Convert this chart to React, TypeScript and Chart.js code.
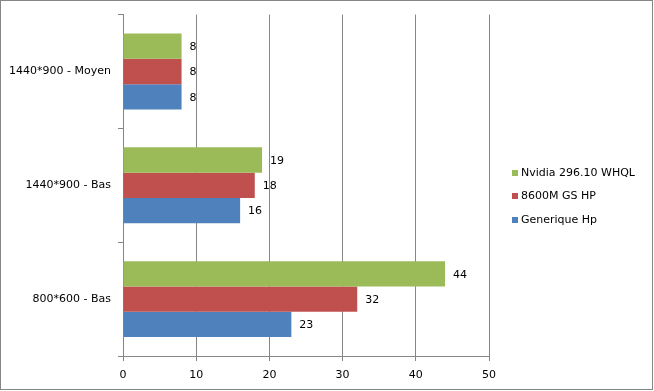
import React, { useEffect, useRef } from "react";
import { Chart, registerables } from "chart.js";

Chart.register(...registerables);

const categories = ["1440*900 - Moyen", "1440*900 - Bas", "800*600 - Bas"];
const nvidiaValues = [8, 19, 44];
const hp8600Values = [8, 18, 32];
const generiqueValues = [8, 16, 23];
const seriesNames = ["Nvidia 296.10 WHQL", "8600M GS HP", "Generique Hp"];
const seriesColors = ["#9BBB59", "#C0504D", "#4F81BD"];
const xMin = 0;
const xMax = 50;
const xStep = 10;

const FONT = "'DejaVu Sans', Verdana, sans-serif";
const GRID = "#868686";

const valueLabels = {
  id: "valueLabels",
  afterDatasetsDraw(chart: any) {
    const ctx = chart.ctx;
    ctx.save();
    ctx.font = `11px ${FONT}`;
    ctx.fillStyle = "#000";
    ctx.textAlign = "left";
    ctx.textBaseline = "middle";
    chart.data.datasets.forEach((ds: any, i: number) => {
      const meta = chart.getDatasetMeta(i);
      meta.data.forEach((el: any, j: number) => {
        ctx.fillText(String(ds.data[j]), el.x + 8, el.y + 1);
      });
    });
    ctx.restore();
  },
};

const sideLegend = {
  id: "sideLegend",
  afterDraw(chart: any) {
    const ctx = chart.ctx;
    const ds = chart.data.datasets;
    const spacing = 23.5;
    const cy = chart.height / 2 + 1;
    const startY = cy - ((ds.length - 1) * spacing) / 2;
    const bx = chart.chartArea.right + 23;
    ctx.save();
    ctx.font = `11px ${FONT}`;
    ctx.textAlign = "left";
    ctx.textBaseline = "middle";
    ds.forEach((d: any, i: number) => {
      const y = Math.round(startY + i * spacing);
      ctx.fillStyle = d.backgroundColor;
      ctx.fillRect(bx, y - 3, 6, 6);
      ctx.fillStyle = "#000";
      ctx.fillText(d.label, bx + 9, y);
    });
    ctx.restore();
  },
};

export default function App() {
  const ref = useRef<HTMLCanvasElement | null>(null);

  useEffect(() => {
    if (!ref.current) return;
    Chart.defaults.font.family = FONT;
    Chart.defaults.font.size = 11;
    Chart.defaults.color = "#000";
    const values = [nvidiaValues, hp8600Values, generiqueValues];
    const chart = new Chart(ref.current, {
      type: "bar",
      data: {
        labels: categories,
        datasets: values.map((v, i) => ({
          label: seriesNames[i],
          data: v,
          backgroundColor: seriesColors[i],
          borderWidth: 0,
          categoryPercentage: 0.667,
          barPercentage: 1.0,
        })),
      },
      options: {
        indexAxis: "y",
        responsive: false,
        animation: false,
        layout: { padding: { top: 13, right: 163, left: 0, bottom: 0 } },
        plugins: {
          legend: { display: false },
          tooltip: { enabled: false },
        },
        scales: {
          x: {
            min: xMin,
            max: xMax,
            ticks: { stepSize: xStep, padding: 8, color: "#000" },
            grid: { color: GRID, tickColor: GRID, tickLength: 5, lineWidth: 1 },
            border: { color: GRID, width: 1 },
            afterFit(s: any) {
              s.height = 33;
            },
          },
          y: {
            ticks: { padding: 7, color: "#000" },
            grid: {
              offset: true,
              drawOnChartArea: false,
              color: GRID,
              tickColor: GRID,
              tickLength: 5,
            },
            border: { color: GRID, width: 1 },
            afterFit(s: any) {
              s.width = 122;
            },
          },
        },
      },
      plugins: [valueLabels, sideLegend],
    } as any);
    return () => chart.destroy();
  }, []);

  return (
    <div
      style={{
        position: "absolute",
        left: 0,
        top: 0,
        width: 653,
        height: 390,
        border: `1px solid ${GRID}`,
        boxSizing: "border-box",
        background: "#fff",
      }}
    >
      <canvas ref={ref} width={651} height={388} style={{ display: "block" }} />
    </div>
  );
}
